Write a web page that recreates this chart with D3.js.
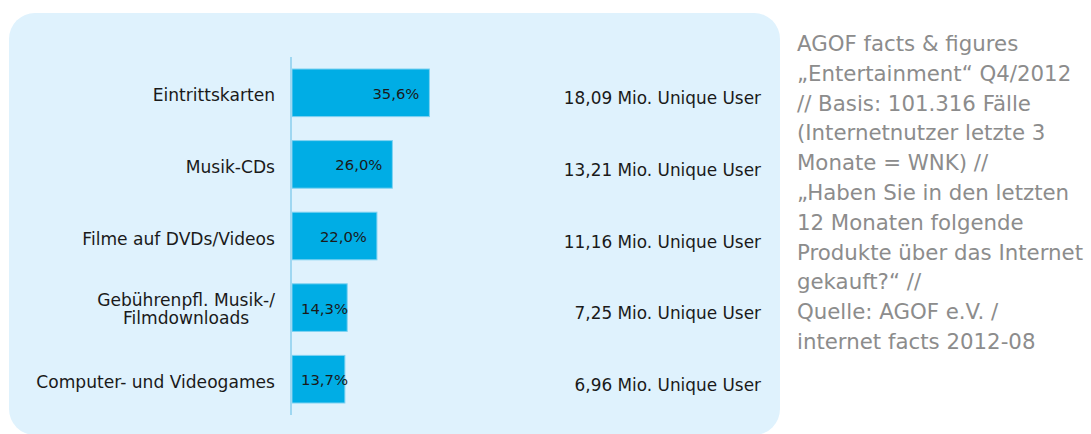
<!DOCTYPE html>
<html>
<head>
<meta charset="utf-8">
<script src="https://cdn.jsdelivr.net/npm/d3@7"></script>
<style>
  html, body { margin: 0; padding: 0; background: #ffffff; }
  svg { display: block; }
</style>
</head>
<body>
<svg id="chart" width="1091" height="434"></svg>
<script>
const categories = [
  "Eintrittskarten",
  "Musik-CDs",
  "Filme auf DVDs/Videos",
  "Gebührenpfl. Musik-/\nFilmdownloads",
  "Computer- und Videogames"
];
const shares = [35.6, 26.0, 22.0, 14.3, 13.7];
const usersMio = [18.09, 13.21, 11.16, 7.25, 6.96];
const noteLines = [
  "AGOF facts & figures",
  "\u201EEntertainment\u201C Q4/2012",
  "// Basis: 101.316 Fälle",
  "(Internetnutzer letzte 3",
  "Monate = WNK) //",
  "\u201EHaben Sie in den letzten",
  "12 Monaten folgende",
  "Produkte über das Internet",
  "gekauft?\u201C //",
  "Quelle: AGOF e.V. /",
  "internet facts 2012-08"
];

const svg = d3.select("#chart");
const font = "'DejaVu Sans', Verdana, sans-serif";

// panel
svg.append("rect")
  .attr("x", 9).attr("y", 13)
  .attr("width", 771).attr("height", 422)
  .attr("rx", 26).attr("ry", 26)
  .attr("fill", "#dff2fd");

const x = d3.scaleLinear().domain([0, 100]).range([292, 678]);
const y = d3.scaleBand().domain(categories).range([57, 415])
  .paddingInner(0.335).paddingOuter(0.1675);

const fmt1 = d3.format(".1f");
const fmt2 = d3.format(".2f");
const de = s => s.replace(".", ",");

// bars
svg.append("g").selectAll("rect")
  .data(categories)
  .join("rect")
  .attr("x", x(0))
  .attr("y", d => y(d))
  .attr("width", (d, i) => x(shares[i]) - x(0))
  .attr("height", y.bandwidth())
  .attr("fill", "#00ade5")
  .attr("stroke", "#7fd2f1")
  .attr("stroke-width", 1);

// axis line
svg.append("line")
  .attr("x1", 291).attr("x2", 291)
  .attr("y1", 57).attr("y2", 415)
  .attr("stroke", "#9fd7f1")
  .attr("stroke-width", 2);

// category labels
const catG = svg.append("g")
  .attr("font-family", font)
  .attr("font-size", 17.1)
  .attr("fill", "#1a1a1a");

categories.forEach((c, i) => {
  const lines = c.split("\n");
  const cy = y(c) + y.bandwidth() / 2;
  const t = catG.append("text").attr("text-anchor", "end");
  if (lines.length === 1) {
    t.attr("x", 275).attr("y", cy + 8.5).text(c);
  } else {
    const tmp = catG.append("text").attr("visibility", "hidden");
    let maxW = 0;
    lines.forEach(l => { tmp.text(l); maxW = Math.max(maxW, tmp.node().getComputedTextLength()); });
    tmp.remove();
    t.attr("text-anchor", "middle");
    const first = cy + 8.5 - (lines.length - 1) * 9 - 1;
    lines.forEach((l, k) => {
      t.append("tspan").attr("x", 275 - maxW / 2).attr("y", first + k * 18).text(l);
    });
  }
});

// value labels in bars
const valG = svg.append("g")
  .attr("font-family", font)
  .attr("font-size", 14.8)
  .attr("fill", "#1a1a1a");

categories.forEach((c, i) => {
  const cy = y(c) + y.bandwidth() / 2;
  const t = valG.append("text").attr("text-anchor", "end").text(de(fmt1(shares[i])) + "%");
  const w = t.node().getComputedTextLength();
  const xe = Math.max(x(shares[i]) - 10, x(0) + 9 + w);
  t.attr("x", xe).attr("y", cy + 6);
});

// user labels
const userG = svg.append("g")
  .attr("font-family", font)
  .attr("font-size", 16.9)
  .attr("fill", "#1a1a1a");

userG.selectAll("text")
  .data(categories)
  .join("text")
  .attr("text-anchor", "end")
  .attr("x", 761)
  .attr("y", d => y(d) + y.bandwidth() / 2 + 11.6)
  .text((d, i) => de(fmt2(usersMio[i])) + " Mio. Unique User");

// side note
svg.append("g")
  .attr("font-family", font)
  .attr("font-size", 21.3)
  .attr("fill", "#8c8c8c")
  .selectAll("text")
  .data(noteLines)
  .join("text")
  .attr("x", 797)
  .attr("y", (d, i) => 51 + i * 29.8)
  .text(d => d);
</script>
</body>
</html>
